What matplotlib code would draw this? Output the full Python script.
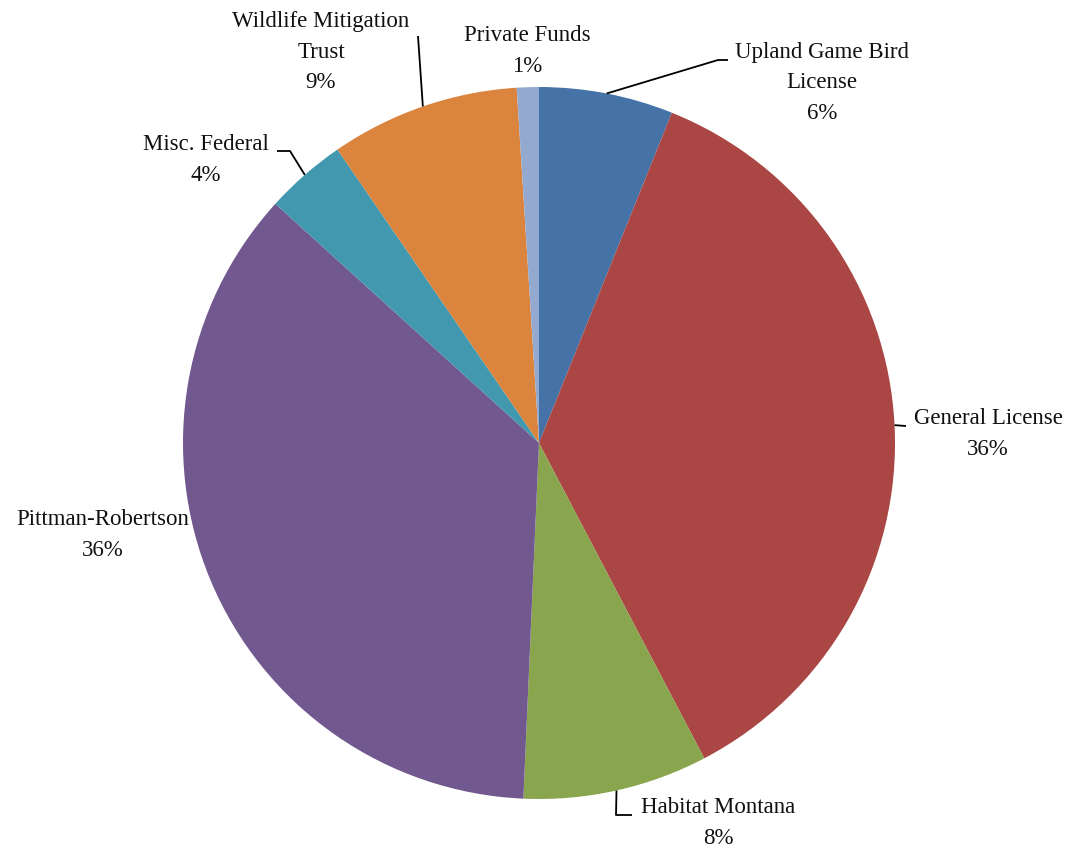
import numpy as np
import matplotlib.pyplot as plt

# ── data ─────────────────────────────────────────────
sources = ["Upland Game Bird\nLicense", "General License", "Habitat Montana",
           "Pittman-Robertson", "Misc. Federal", "Wildlife Mitigation\nTrust",
           "Private Funds"]
shares = [6.1, 36.3, 8.4, 36.1, 3.7, 8.6, 1.0]
pct_labels = ["6%", "36%", "8%", "36%", "4%", "9%", "1%"]
colors = ["#4572A7", "#AA4643", "#89A54E", "#71588F", "#4198AF", "#DB843D", "#93A9CF"]

# label layout (pixel space, y from top)
label_pos = [(822, 83), (988, 434), (718, 823), (103, 535), (206, 160), (321, 52), (527, 51)]
# leader line waypoints after the wedge edge point (None = no leader)
leaders = [[(718, 60), (728, 60)], [(906, 426)], [(616, 815), (632, 815)], None,
           [(290, 151), (277, 151)], [(418, 36)], None]

W, H = 1068, 848
CX, CY, R = 539, 443, 356

plt.rcParams["font.family"] = ["Liberation Serif", "DejaVu Serif"]

fig = plt.figure(figsize=(W / 100, H / 100), dpi=100)
ax = fig.add_axes([0, 0, 1, 1])

wedges, _ = ax.pie(shares, colors=colors, startangle=90, counterclock=False,
                   center=(CX, H - CY), radius=R, frame=True,
                   wedgeprops=dict(linewidth=0))
ax.set_xlim(0, W)
ax.set_ylim(0, H)
ax.set_aspect("equal")
ax.axis("off")

for w, name, pct, (lx, ly), lead in zip(wedges, sources, pct_labels, label_pos, leaders):
    mid = np.deg2rad((w.theta1 + w.theta2) / 2)
    if lead is not None:
        ex = CX + R * np.cos(mid)
        ey = (H - CY) + R * np.sin(mid)
        xs = [ex] + [p[0] for p in lead]
        ys = [ey] + [H - p[1] for p in lead]
        ax.plot(xs, ys, color="black", lw=1.3, solid_capstyle="butt")
    ax.text(lx, H - ly, f"{name}\n{pct}", ha="center", va="center",
            fontsize=16.5, linespacing=1.6, color="#111111")

fig.savefig("out.png", dpi=100)
